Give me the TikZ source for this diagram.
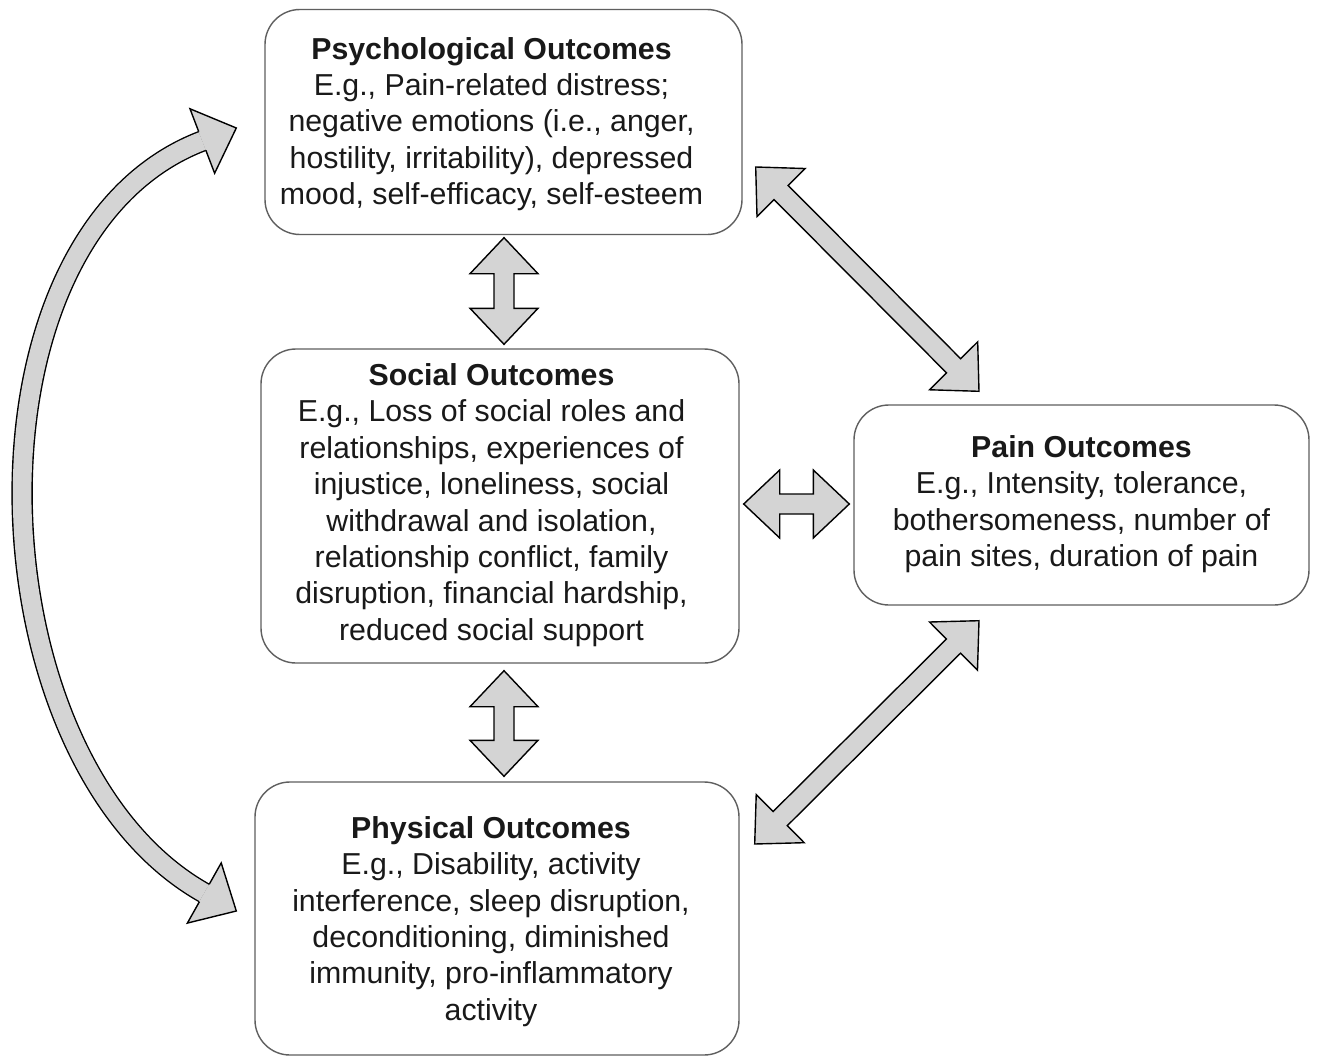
\documentclass[tikz,border=0pt]{standalone}
\usepackage{fontspec}
\setmainfont{Liberation Sans}
\usetikzlibrary{calc}
\definecolor{arrowfill}{RGB}{212,212,212}
\definecolor{boxline}{RGB}{95,95,95}
\tikzset{
  outbox/.style={draw=boxline, line width=1.4pt, rounded corners=35pt, inner sep=0pt},
  outtext/.style={align=center, inner sep=0pt, text=black!90, font=\fontsize{30.3}{36.4}\selectfont},
  blockarrow/.style={fill=arrowfill, draw=black, line width=1.4pt, line join=miter},
  curveshaft/.style={draw=black, line width=1.4pt, double=arrowfill, double distance=18.6pt},
  headline/.style={draw=black, line width=1.4pt, line join=miter}
}
\newcommand\dblblock[2]{%
  \coordinate (ha) at ($(#1)!36pt!(#2)$);
  \coordinate (hb) at ($(#2)!36pt!(#1)$);
  \filldraw[blockarrow] (#1) -- ($(ha)!34pt!90:(#2)$) -- ($(ha)!10pt!90:(#2)$)
    -- ($(hb)!10pt!-90:(#1)$) -- ($(hb)!34pt!-90:(#1)$) -- (#2)
    -- ($(hb)!34pt!90:(#1)$) -- ($(hb)!10pt!90:(#1)$)
    -- ($(ha)!10pt!-90:(#2)$) -- ($(ha)!34pt!-90:(#2)$) -- cycle;}
\newcommand\blockhead[2]{%
  \fill[arrowfill] ($(#1)!34.5pt!90:(#2)$) -- (#2) -- ($(#1)!34.5pt!-90:(#2)$) -- cycle;
  \draw[headline] ($(#1)!10pt!90:(#2)$) -- ($(#1)!34.5pt!90:(#2)$) -- (#2)
    -- ($(#1)!34.5pt!-90:(#2)$) -- ($(#1)!10pt!-90:(#2)$);}
\begin{document}
\begin{tikzpicture}[x=1pt, y=-1pt]
\useasboundingbox (0,0) rectangle (1318,1057);
\fill[white] (0,0) rectangle (1318,1057);

% boxes
\node[outbox, minimum width=477pt, minimum height=225pt] (psy) at (503.5,122) {};
\node[outbox, minimum width=478pt, minimum height=314pt] (soc) at (500,506) {};
\node[outbox, minimum width=455pt, minimum height=200pt] (pain) at (1081.5,505) {};
\node[outbox, minimum width=484pt, minimum height=273pt] (phy) at (497,918.5) {};

% texts
\node[outtext] (psyt) at ($(psy.center)+(-12,2)$)
  {\textbf{Psychological Outcomes}\\E.g., Pain-related distress;\\negative emotions (i.e., anger,\\hostility, irritability), depressed\\mood, self-efficacy, self-esteem};
\node[outtext] (soct) at ($(soc.center)+(-8.5,-1)$)
  {\textbf{Social Outcomes}\\E.g., Loss of social roles and\\relationships, experiences of\\injustice, loneliness, social\\withdrawal and isolation,\\relationship conflict, family\\disruption, financial hardship,\\reduced social support};
\node[outtext] (paint) at ($(pain.center)+(0,-1)$)
  {\textbf{Pain Outcomes}\\E.g., Intensity, tolerance,\\bothersomeness, number of\\pain sites, duration of pain};
\node[outtext] (phyt) at ($(phy.center)+(-6,3)$)
  {\textbf{Physical Outcomes}\\E.g., Disability, activity\\interference, sleep disruption,\\deconditioning, diminished\\immunity, pro-inflammatory\\activity};

% straight double block arrows
\coordinate (v1a) at ($(psy.south)+(0.5,2.5)$);
\coordinate (v1b) at ($(soc.north)+(4,-4)$);
\dblblock{v1a}{v1b}
\coordinate (v2a) at ($(soc.south)+(4,7)$);
\coordinate (v2b) at ($(phy.north)+(7,-5)$);
\dblblock{v2a}{v2b}
\coordinate (ha1) at ($(soc.east)+(4,-2)$);
\coordinate (ha2) at ($(pain.west)+(-4,-1)$);
\dblblock{ha1}{ha2}
\coordinate (d1a) at ($(psy.east)+(13,45)$);
\coordinate (d1b) at ($(pain.north)+(-102.5,-13)$);
\dblblock{d1a}{d1b}
\coordinate (d2a) at ($(pain.south)+(-102.5,15)$);
\coordinate (d2b) at ($(phy.east)+(15,-74.5)$);
\dblblock{d2a}{d2b}

% curved arrow psychological <-> physical
\coordinate (t1) at ($(psy.west)+(-28,6)$);
\coordinate (b1) at ($(t1)+(-34,13)$);
\coordinate (t2) at ($(phy.west)+(-18,-7.5)$);
\coordinate (b2) at ($(t2)+(-32,-18)$);
\draw[curveshaft] (b1) .. controls ($(b1)+(-250,95.5)$) and ($(b2)+(-233,-131)$) .. (b2);
\blockhead{b1}{t1}
\blockhead{b2}{t2}
\end{tikzpicture}
\end{document}
